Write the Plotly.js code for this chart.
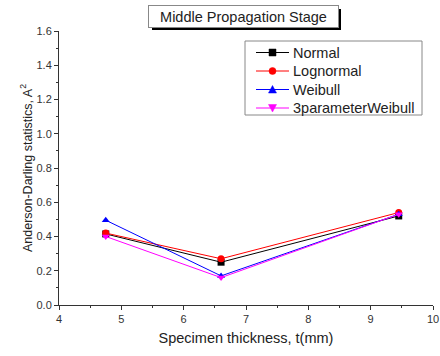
<!DOCTYPE html>
<html><head><meta charset="utf-8">
<script src="https://cdn.plot.ly/plotly-3.0.1.min.js"></script>
<style>body{margin:0;background:#fff}#c{width:440px;height:356px}</style>
</head><body><div id="c"></div>
<script>
const thickness = [4.75, 6.6, 9.45];
const normal = [0.415, 0.25, 0.52];
const lognormal = [0.42, 0.27, 0.54];
const weibull = [0.495, 0.17, 0.53];
const weibull3 = [0.40, 0.16, 0.53];
const names = ["Normal", "Lognormal", "Weibull", "3parameterWeibull"];
const colors = ["#000000", "#ff0000", "#0000ff", "#ff00ff"];
const symbols = ["square", "circle", "triangle-up", "triangle-down"];
const series = [normal, lognormal, weibull, weibull3];

const traces = series.map((s, i) => ({
  x: thickness, y: s, name: names[i], type: 'scatter', mode: 'lines+markers',
  line: {color: colors[i], width: 1},
  marker: {color: colors[i], symbol: symbols[i], size: 7}
}));

// plot area in pixels (layout)
const L = 59, R = 433, T = 31, B = 305;
const px = v => (v - L) / (R - L);
const py = v => (B - v) / (B - T);

const F = 'Arial, Liberation Sans, sans-serif';
const axisFont = {family: F, size: 11, color: '#333'};

const shapes = [
  // title shadow
  {type: 'rect', xref: 'paper', yref: 'paper', x0: px(152), x1: px(341), y0: py(30), y1: py(9),
   fillcolor: '#000', line: {width: 0}, layer: 'above'},
  // legend box
  {type: 'rect', xref: 'paper', yref: 'paper', x0: px(245), x1: px(422), y0: py(115), y1: py(41),
   fillcolor: '#fff', line: {color: '#888', width: 1}, layer: 'above'}
];
const annotations = [
  {text: 'Middle Propagation Stage', xref: 'paper', yref: 'paper', x: px(243.5), y: py(16.5),
   xanchor: 'center', yanchor: 'middle', showarrow: false,
   font: {family: F, size: 14.5, color: '#222'},
   bgcolor: '#fff', bordercolor: '#888', borderwidth: 1, width: 187, height: 19}
];
const rowY = [52.5, 71, 89.5, 108];
names.forEach((n, i) => {
  const y = rowY[i], cx = 272.5, r = 3.5;
  shapes.push({type: 'line', xref: 'paper', yref: 'paper', x0: px(256), x1: px(289), y0: py(y), y1: py(y),
    line: {color: colors[i], width: 1}, layer: 'above'});
  let m;
  if (symbols[i] === 'square') {
    m = {type: 'rect', x0: px(cx - r), x1: px(cx + r), y0: py(y + r), y1: py(y - r)};
  } else if (symbols[i] === 'circle') {
    m = {type: 'circle', x0: px(cx - r), x1: px(cx + r), y0: py(y + r), y1: py(y - r)};
  } else if (symbols[i] === 'triangle-up') {
    m = {type: 'path', path: `M ${px(cx - 4)} ${py(y + 3.5)} L ${px(cx + 4)} ${py(y + 3.5)} L ${px(cx)} ${py(y - 4)} Z`};
  } else {
    m = {type: 'path', path: `M ${px(cx - 4)} ${py(y - 3.5)} L ${px(cx + 4)} ${py(y - 3.5)} L ${px(cx)} ${py(y + 4)} Z`};
  }
  Object.assign(m, {xref: 'paper', yref: 'paper', fillcolor: colors[i], line: {color: colors[i], width: 0.5}, layer: 'above'});
  shapes.push(m);
  annotations.push({text: n, xref: 'paper', yref: 'paper', x: px(291), y: py(y), xanchor: 'left', yanchor: 'middle',
    showarrow: false, font: {family: F, size: 14.5, color: '#222'}});
});

const layout = {
  width: 440, height: 356,
  margin: {l: L, r: 440 - R, t: T, b: 356 - B},
  paper_bgcolor: '#fff', plot_bgcolor: '#fff',
  showlegend: false,
  xaxis: {range: [4, 10], dtick: 1, showgrid: false, zeroline: false,
    showline: true, linecolor: '#333', linewidth: 1, ticks: 'outside', ticklen: 4,
    tickcolor: '#333', tickfont: axisFont,
    minor: {dtick: 0.5, ticks: 'outside', ticklen: 2, tickcolor: '#333'},
    title: {text: 'Specimen thickness, t(mm)', font: {family: F, size: 14.5, color: '#222'}, standoff: 8}},
  yaxis: {range: [0, 1.6], dtick: 0.2, tickformat: '.1f', showgrid: false, zeroline: false,
    showline: true, linecolor: '#333', linewidth: 1, ticks: 'outside', ticklen: 4,
    tickcolor: '#333', tickfont: axisFont,
    minor: {dtick: 0.1, ticks: 'outside', ticklen: 2, tickcolor: '#333'},
    title: {text: 'Anderson-Darling statistics, A<sup>2</sup>', font: {family: F, size: 12.5, color: '#222'}, standoff: 1}},
  shapes: shapes,
  annotations: annotations
};
Plotly.newPlot('c', traces, layout, {displayModeBar: false, staticPlot: true});
</script></body></html>
